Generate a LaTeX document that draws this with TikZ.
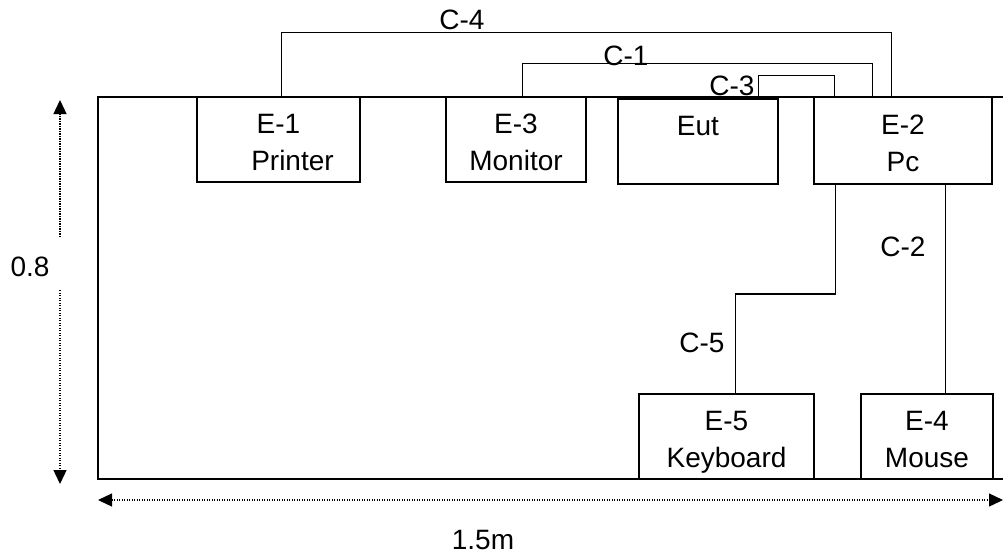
\documentclass[tikz,border=0pt]{standalone}
\usepackage{fontspec}
\setmainfont{Liberation Sans}
\usetikzlibrary{calc,arrows.meta}
\newcommand{\fs}{\fontsize{28}{37}\selectfont}
\newcommand{\bs}{\rule[-6pt]{0pt}{36pt}}
\begin{document}
\begin{tikzpicture}[x=1pt,y=-1pt,
  box/.style={draw, line width=1.5pt, inner sep=0pt, align=center, font=\fs, anchor=center},
  wire/.style={line width=1.5pt},
  lbl/.style={font=\fs, inner sep=0pt},
  dim/.style={line width=1.3pt, dash pattern=on 1.3pt off 1.2pt},
  tip/.style={-{Triangle[length=14pt,width=13pt]}}]
\useasboundingbox (0,0) rectangle (1003,558);
% table
\draw[line width=2pt] (1003,97) -- (98,97) -- (98,479) -- (1003,479);
% boxes
\node[box, minimum width=163pt, minimum height=85pt] (e1) at (278.5,139.5) {\bs E-1\\\hspace*{28pt}\bs Printer};
\node[box, minimum width=140pt, minimum height=85pt] (e3) at (516,139.5) {\bs E-3\\\bs Monitor};
\node[box, minimum width=160pt, minimum height=85pt] (eut) at (698,141.5) {\bs Eut\\\bs};
\node[box, minimum width=178pt, minimum height=87pt] (e2) at (903,140.5) {\bs E-2\\\bs Pc};
\node[box, minimum width=175pt, minimum height=85pt] (e5) at (726.5,436.5) {\bs E-5\\\bs Keyboard};
\node[box, minimum width=132pt, minimum height=85pt] (e4) at (927,436.5) {\bs E-4\\\bs Mouse};
% connectors
\draw[wire] ($(e1.north west)+(85,0)$) -- ++(0,-64) -| ($(e2.north west)+(78,0)$);
\draw[wire] ($(e3.north west)+(77,0)$) -- ++(0,-33) -| ($(e2.north west)+(59,0)$);
\draw[wire] ($(eut.north west)+(141,-2)$) -- ++(0,-21) -| ($(e2.north west)+(21,0)$);
\draw[wire] ($(e2.south west)+(132,0)$) -- ($(e4.north west)+(85,0)$);
\draw[wire] ($(e2.south west)+(22,0)$) -- ++(0,109) -| ($(e5.north west)+(97,0)$);
% connector labels
\node[lbl] (lc4) at (462,20) {C-4};
\node[lbl] (lc1) at (626,56) {C-1};
\node[lbl] (lc3) at (732,86) {C-3};
\node[lbl] (lc2) at (903,247) {C-2};
\node[lbl] (lc5) at (702,343) {C-5};
% dimensions
\coordinate (vt) at (60,100);
\coordinate (vb) at (60,484);
\coordinate (vm1) at (60,237);
\coordinate (vm2) at (60,290);
\node[lbl] (h) at (30,267) {0.8};
\draw[dim, tip] (vm1) -- (vt);
\draw[dim, tip] (vm2) -- (vb);
\coordinate (hl) at (98,500);
\coordinate (hr) at (1003,500);
\draw[dim, {Triangle[length=14pt,width=13pt]}-{Triangle[length=14pt,width=13pt]}] (hl) -- (hr);
\node[lbl] (w) at (483,540) {1.5m};
\end{tikzpicture}
\end{document}
